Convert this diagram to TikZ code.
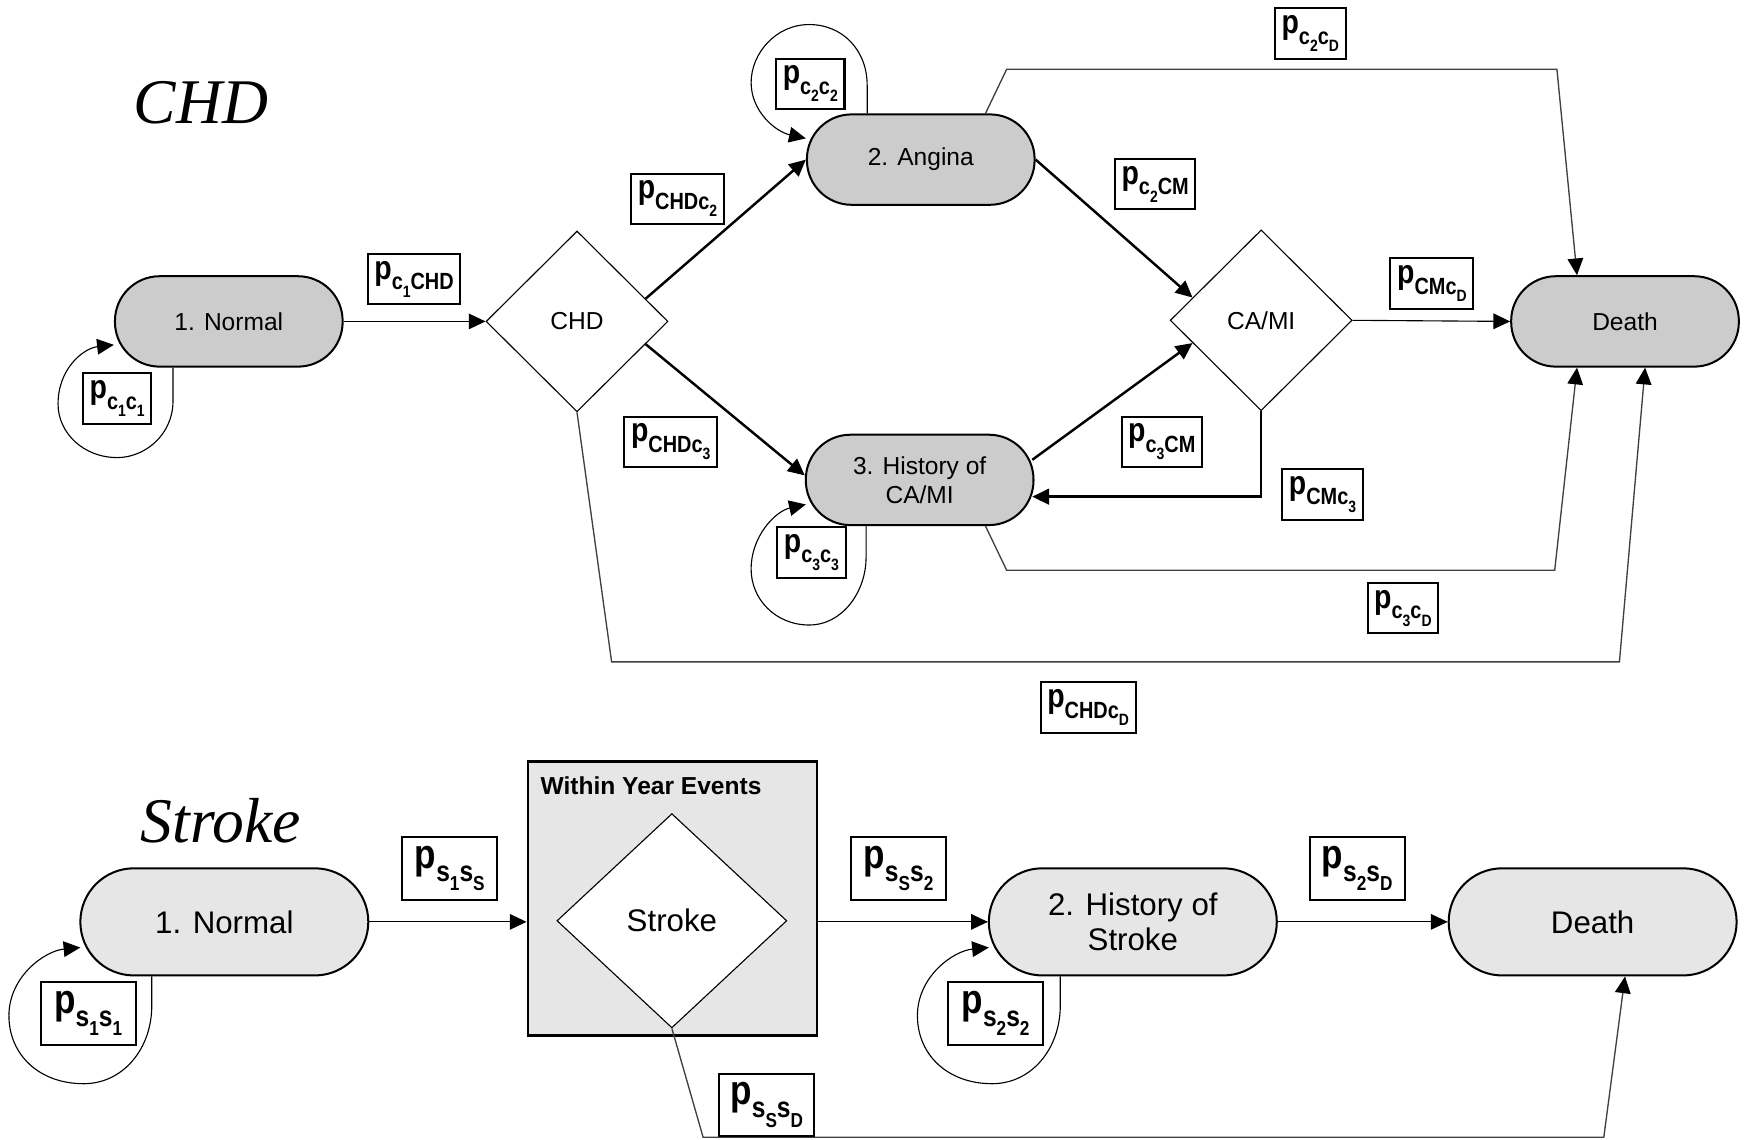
\documentclass[tikz,border=0pt]{standalone}
\usepackage{fontspec}
\setmainfont{Liberation Sans}
\newfontfamily\titlefont{Liberation Serif}
\newfontfamily\narrowfont[FakeStretch=0.85]{Liberation Sans}
\usetikzlibrary{shapes.geometric,arrows.meta,calc}
\newcommand\sbs[1]{\raisebox{-0.6ex}{\scalebox{0.7}{#1}}}
\newcommand\plab[1]{{\narrowfont\bfseries p\sbs{#1}}}
\definecolor{statec}{HTML}{CCCCCC}
\definecolor{strokec}{HTML}{E6E6E6}
\tikzset{
  arr/.style={-{Triangle[length=7.5pt,width=7pt,color=black]}},
  thinline/.style={line width=0.5pt},
  thickline/.style={line width=1.1pt},
  gline/.style={line width=0.6pt, draw=black!75},
  chdstate/.style={draw, line width=0.9pt, fill=statec, rounded corners=20pt,
     minimum width=102pt, minimum height=40.5pt, align=center,
     font=\fontsize{11}{13}\selectfont},
  skstate/.style={draw, line width=0.9pt, fill=strokec, rounded corners=24pt,
     minimum width=129pt, minimum height=48pt, align=center,
     font=\fontsize{14}{15.5}\selectfont},
  chddia/.style={shape=diamond, draw, line width=0.5pt, fill=white, inner sep=0pt,
     minimum width=81.5pt, minimum height=81pt, font=\fontsize{11}{13}\selectfont},
  lblc/.style={draw, line width=0.9pt, fill=white, inner sep=3pt,
     minimum height=22.5pt, font=\fontsize{15}{16}\selectfont},
  lbls/.style={draw, line width=0.9pt, fill=white, inner sep=2.5pt,
     minimum width=42.5pt, minimum height=28pt, font=\fontsize{18.5}{19}\selectfont},
  title/.style={font=\titlefont\itshape\fontsize{28.5}{30}\selectfont},
}
\begin{document}
\begin{tikzpicture}[x=0.5pt,y=-0.5pt]
\useasboundingbox (0,0) rectangle (1568,1021);

% ===================== CHD =====================
\node[title] (t1) at (180,92) {CHD};
\node[chdstate] (n1) at (205,288) {1. Normal};
\node[chddia] (chd) at (517,288) {CHD};
\node[chdstate] (ang) at (825,143) {2. Angina};
\node[chdstate] (hist) at (824,430) {3. History of\\CA/MI};
\node[chddia] (cam) at (1130,287) {CA/MI};
\node[chdstate] (death) at (1456,288) {Death};

% long connectors to death
\draw[gline,arr] ($(ang.north)+(58,0)$) -- (902,62) -- (1395,62) -- ($(death.north)+(-43,0)$);
\draw[gline,arr] ($(hist.south)+(59,0)$) -- (902,511) -- (1393,511) -- ($(death.south)+(-43,0)$);
\draw[gline,arr] (chd.south) -- (548,593) -- (1451,593) -- ($(death.south)+(18,0)$);

% main connectors
\draw[thinline,arr] (n1.east) -- (chd.west);
\draw[thickline,arr] ($(chd.east)!0.25!(chd.north)$) -- (ang.west);
\draw[thickline,arr] ($(chd.east)!0.25!(chd.south)$) -- ($(hist.west)+(0,-4)$);
\draw[thickline,arr] (ang.east) -- ($(cam.west)!0.25!(cam.north)$);
\draw[thickline,arr] ($(hist.east)+(-2,-18)$) -- ($(cam.west)!0.25!(cam.south)$);
\draw[thickline,arr] (cam.south) |- ($(hist.east)+(-2,15)$);
\draw[thinline,arr] (cam.east) -- (death.west);

% self loops
\draw[thinline,arr] ($(n1.south)+(-50,0)$) -- ++(0,30)
   .. controls +(0,30) and (130,410) .. (105,410)
   .. controls (75,410) and (52,388) .. (52,362)
   .. controls (52,330) and (75,312) .. ($(n1)+(-103,21)$);
\draw[thinline,arr] ($(ang.north)+(-48,0)$) -- ++(0,-25)
   .. controls (777,45) and (755,22) .. (725,22)
   .. controls (695,22) and (673,48) .. (673,74)
   .. controls (673,100) and (695,118) .. ($(ang)+(-103,-19)$);
\draw[thinline,arr] ($(hist.south)+(-48,0)$) -- ++(0,28)
   .. controls (776,530) and (755,560) .. (725,560)
   .. controls (695,560) and (673,537) .. (673,510)
   .. controls (673,480) and (695,458) .. ($(hist)+(-102,22)$);

% labels
\node[lblc] (l1) at (371,250) {\plab{c\sbs{1}CHD}};
\node[lblc] (l2) at (105,357) {\plab{c\sbs{1}c\sbs{1}}};
\node[lblc] (l3) at (607,178) {\plab{CHDc\sbs{2}}};
\node[lblc] (l4) at (726,75) {\plab{c\sbs{2}c\sbs{2}}};
\node[lblc] (l5) at (1035,165) {\plab{c\sbs{2}CM}};
\node[lblc] (l6) at (1174,30) {\plab{c\sbs{2}c\sbs{D}}};
\node[lblc] (l7) at (1283,254) {\plab{CMc\sbs{D}}};
\node[lblc] (l8) at (601,396) {\plab{CHDc\sbs{3}}};
\node[lblc] (l9) at (1041,396) {\plab{c\sbs{3}CM}};
\node[lblc] (l10) at (1185,443) {\plab{CMc\sbs{3}}};
\node[lblc] (l11) at (727,495) {\plab{c\sbs{3}c\sbs{3}}};
\node[lblc] (l12) at (1257,545) {\plab{c\sbs{3}c\sbs{D}}};
\node[lblc] (l13) at (975,634) {\plab{CHDc\sbs{D}}};

% ===================== Stroke =====================
\node[title] (t2) at (198,735) {Stroke};
\node[skstate] (s1) at (201,826) {1. Normal};
\node[draw, line width=1.2pt, fill=strokec, minimum width=129.5pt, minimum height=123pt] (wy) at (602.5,805) {};
\node[anchor=west, font=\bfseries\fontsize{11}{13}\selectfont, inner sep=0pt] (wyt) at (484,704) {Within Year Events};
\node[shape=diamond, draw, line width=0.5pt, fill=white, inner sep=0pt,
      minimum width=103pt, minimum height=96pt, font=\fontsize{14}{15.5}\selectfont] (sd) at (602,825) {Stroke};
\node[skstate] (s2) at (1015,826) {2. History of\\Stroke};
\node[skstate] (sdeath) at (1427,826) {Death};

\draw[gline,arr] (sd.south) -- (630,1019) -- (1437,1019) -- ($(sdeath.south)+(29,0)$);
\draw[thinline,arr] (s1.east) -- (s1.east -| wy.west);
\draw[thinline,arr] (s2.west -| wy.east) -- (s2.west);
\draw[thinline,arr] (s2.east) -- (sdeath.west);

\draw[thinline,arr] ($(s1.south)+(-65,0)$) -- ++(0,26)
   .. controls (136,940) and (110,971) .. (75,971)
   .. controls (35,971) and (8,945) .. (8,910)
   .. controls (8,875) and (40,852) .. ($(s1)+(-129,23)$);
\draw[thinline,arr] ($(s2.south)+(-65,0)$) -- ++(0,26)
   .. controls (950,940) and (924,971) .. (889,971)
   .. controls (849,971) and (822,945) .. (822,910)
   .. controls (822,875) and (854,852) .. ($(s2)+(-129,23)$);

\node[lbls] (m1) at (79,908) {\plab{s\sbs{1}s\sbs{1}}};
\node[lbls] (m2) at (403,778) {\plab{s\sbs{1}s\sbs{S}}};
\node[lbls] (m3) at (805,778) {\plab{s\sbs{S}s\sbs{2}}};
\node[lbls] (m4) at (892,908) {\plab{s\sbs{2}s\sbs{2}}};
\node[lbls] (m5) at (1216,778) {\plab{s\sbs{2}s\sbs{D}}};
\node[lbls] (m6) at (687,990) {\plab{s\sbs{S}s\sbs{D}}};
\end{tikzpicture}
\end{document}
